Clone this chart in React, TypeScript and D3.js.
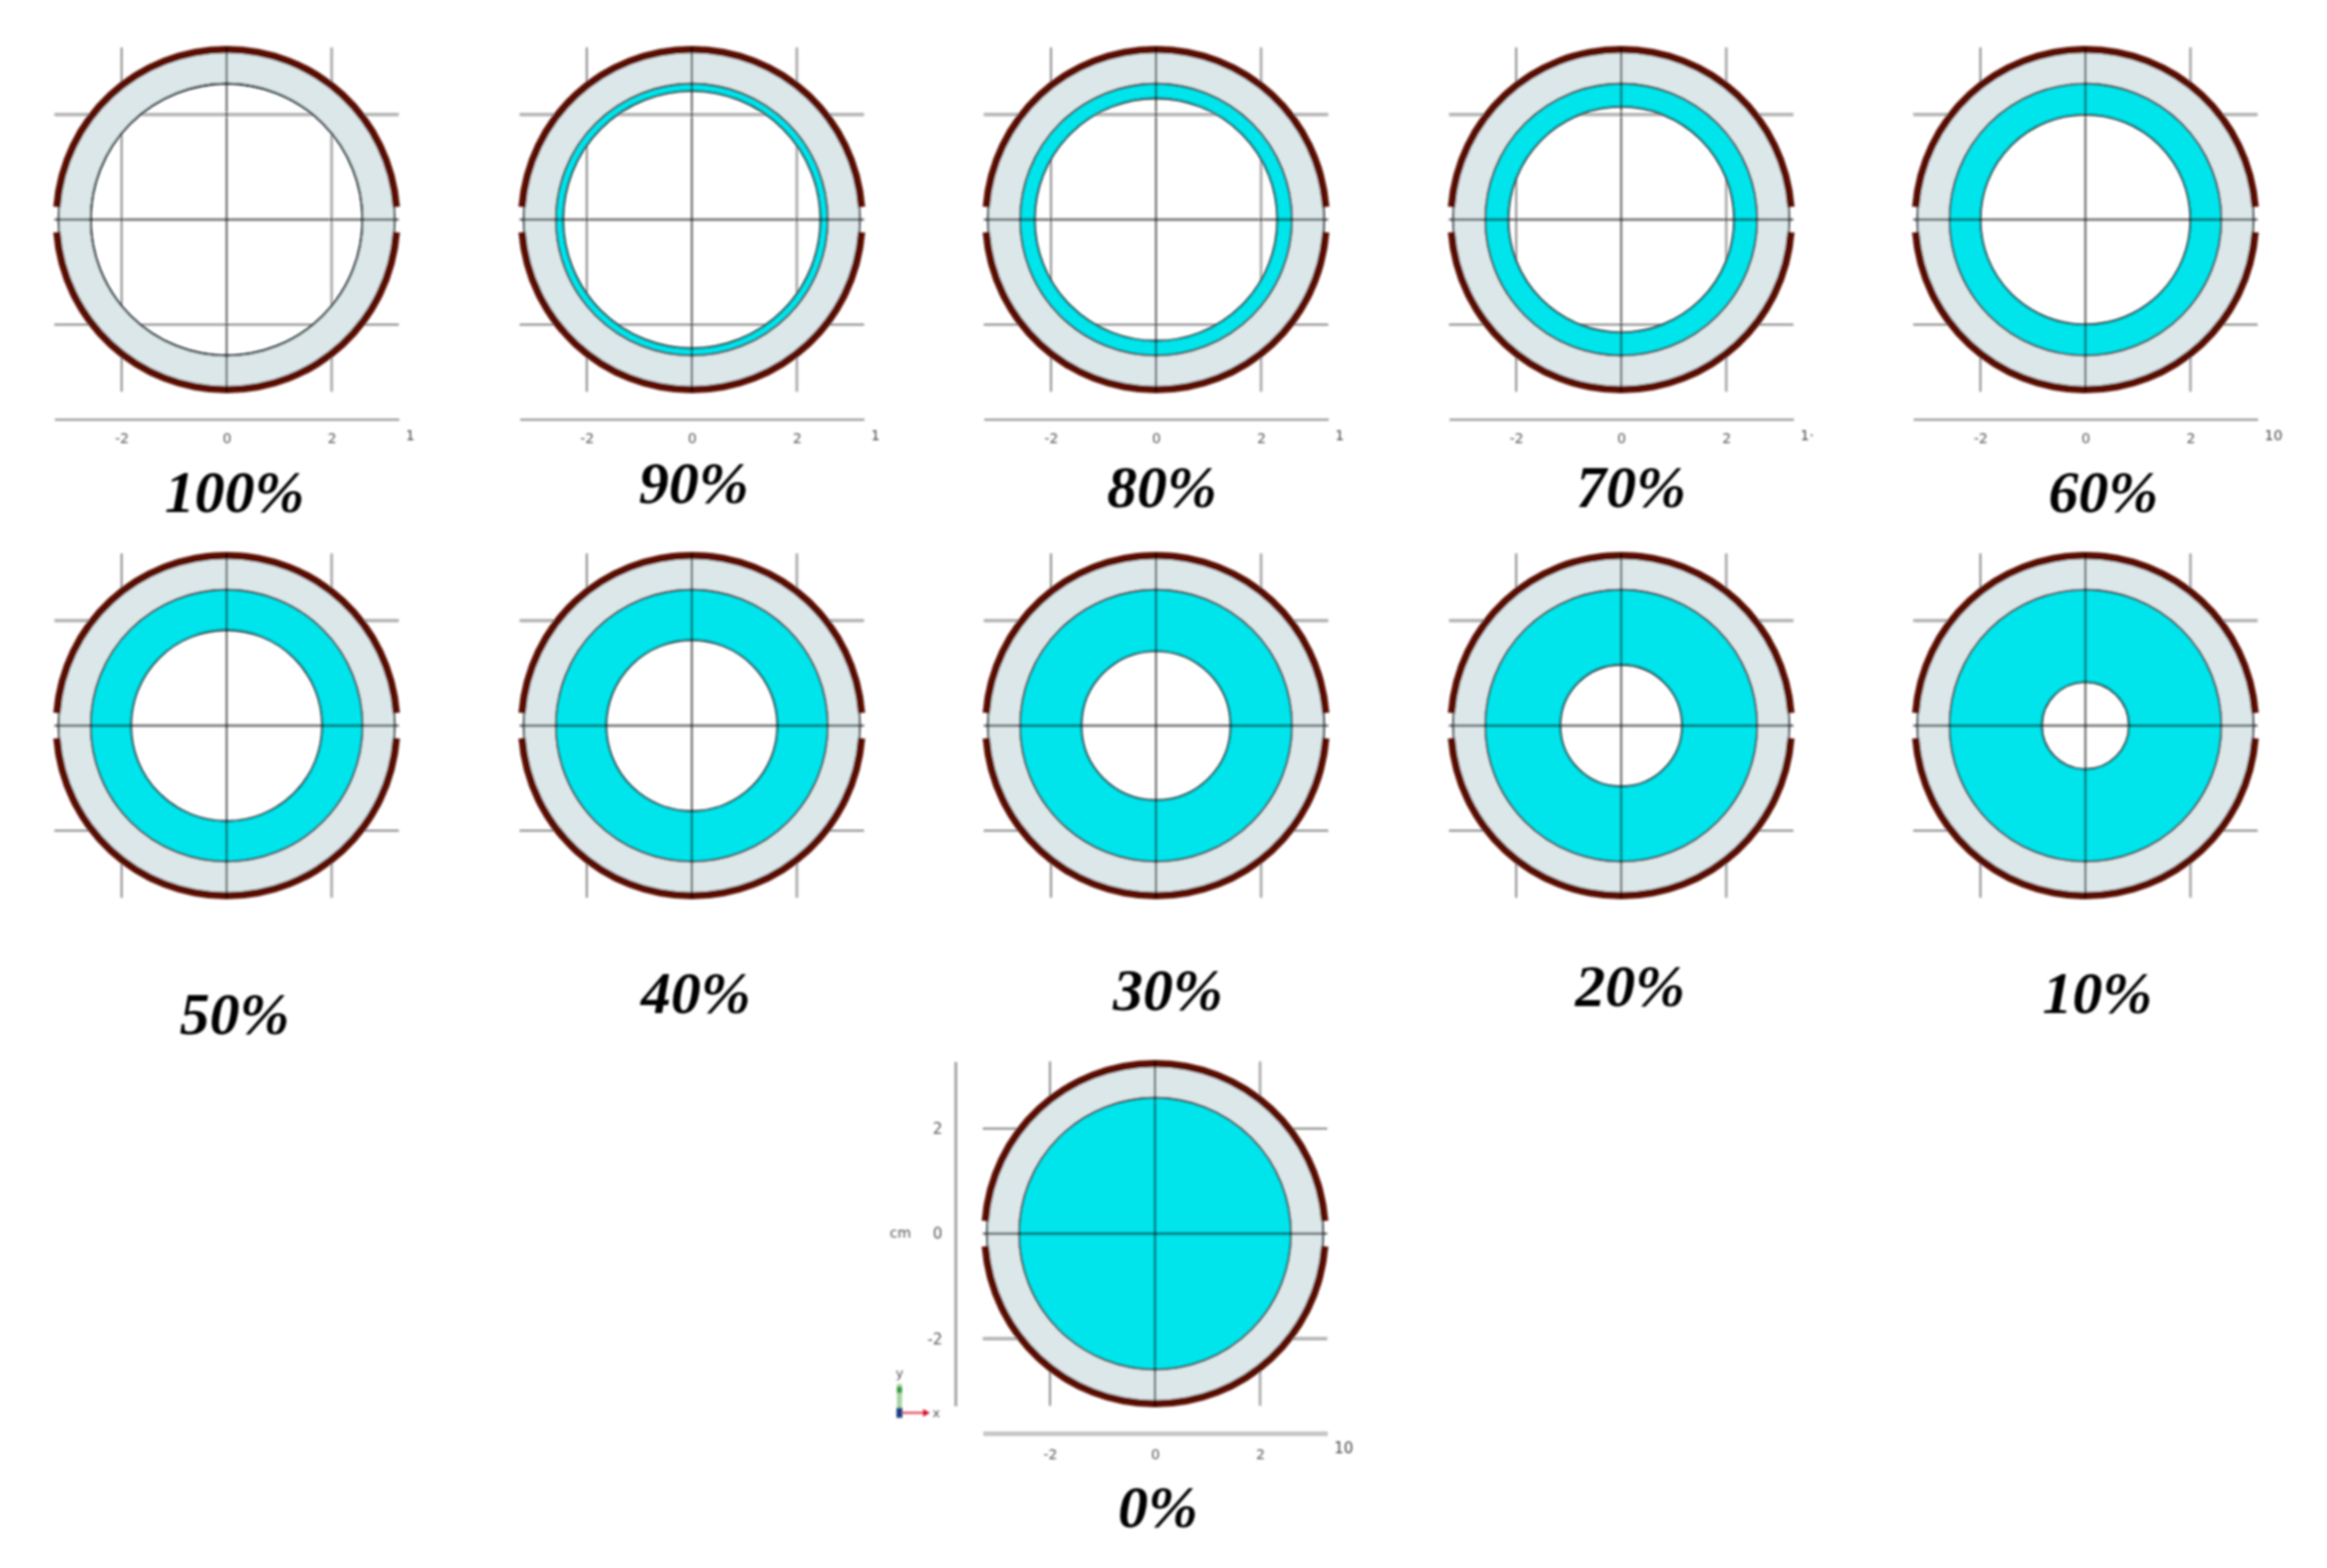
import * as React from "react";
import * as d3 from "d3";

// fill level of each panel, and the radius (cm) of the empty core
const fillLabels = ["100%", "90%", "80%", "70%", "60%", "50%", "40%", "30%", "20%", "10%", "0%"];
const coreRadius = [2.59, 2.45, 2.31, 2.15, 2.0, 1.82, 1.63, 1.42, 1.16, 0.83, 0];
const axisEndLabels = ["1", "1", "1", "1·", "10", "", "", "", "", "", "10"];
const gridTicks = [-2, 2];
const axisTicks = [-2, 0, 2];

const innerWall = 2.59;
const outerWall = 3.2;
const shellInner = 3.17;
const shellRadius = 3.31;
const extent = 3.28;

// layout, picture pixels
const pxPerCm = 52.6;
const panelX = [227, 693, 1158, 1624, 2089, 227, 693, 1158, 1624, 2089, 1157];
const panelY = [220, 220, 220, 220, 220, 727, 727, 727, 727, 727, 1236];
const labelX = [235, 695, 1164, 1634, 2107, 235, 697, 1170, 1633, 2101, 1160];
const labelY = [513, 504, 508, 508, 513, 1036, 1015, 1012, 1008, 1015, 1530];

const tickFormat = (d: any) => String(d);

export default function App() {
  const ref = React.useRef<SVGSVGElement>(null);

  React.useEffect(() => {
    const svg = d3.select(ref.current);
    svg.selectAll("*").remove();

    svg
      .append("defs")
      .append("filter")
      .attr("id", "soft")
      .append("feGaussianBlur")
      .attr("stdDeviation", 0.8);

    const root = svg.append("g").attr("filter", "url(#soft)");
    const r = d3.scaleLinear().domain([0, extent]).range([0, extent * pxPerCm]);
    const ring = d3.arc<any>();
    const gapAngle = 0.075;

    fillLabels.forEach((label, i) => {
      const cx = panelX[i];
      const cy = panelY[i];
      const x = d3.scaleLinear().domain([-extent, extent]).range([cx - r(extent), cx + r(extent)]);
      const y = d3.scaleLinear().domain([-extent, extent]).range([cy + r(extent), cy - r(extent)]);
      const g = root.append("g");

      // grid lines, they run under the rings
      gridTicks.forEach((t, j) => {
        g.append("line")
          .attr("x1", x(t))
          .attr("x2", x(t))
          .attr("y1", y(extent))
          .attr("y2", y(-extent))
          .attr("stroke", j ? "#a8a8a8" : "#8c8c8c")
          .attr("stroke-width", j ? 2.6 : 2);
        g.append("line")
          .attr("x1", x(-extent))
          .attr("x2", x(extent))
          .attr("y1", y(t))
          .attr("y2", y(t))
          .attr("stroke", (t > 0) === (i < 10) ? "#b4b4b4" : "#888")
          .attr("stroke-width", (t > 0) === (i < 10) ? 3.4 : 2);
      });

      const disc = g.append("g").attr("transform", `translate(${cx},${cy})`);

      disc
        .append("path")
        .attr("d", ring({ innerRadius: r(innerWall), outerRadius: r(outerWall), startAngle: 0, endAngle: 2 * Math.PI }))
        .attr("fill", "#dce7e9");

      if (coreRadius[i] < innerWall) {
        disc
          .append("path")
          .attr("d", ring({ innerRadius: r(coreRadius[i]), outerRadius: r(innerWall), startAngle: 0, endAngle: 2 * Math.PI }))
          .attr("fill", "#00e4eb");
      }

      // thin outlines
      [innerWall, outerWall, coreRadius[i]].forEach((c) => {
        if (c === 0) return;
        disc
          .append("circle")
          .attr("r", r(c))
          .attr("fill", "none")
          .attr("stroke", "#16282c")
          .attr("stroke-width", 1.8);
      });

      // shell, split at both sides
      [
        [-Math.PI / 2 + gapAngle, Math.PI / 2 - gapAngle],
        [Math.PI / 2 + gapAngle, (3 * Math.PI) / 2 - gapAngle],
      ].forEach(([a0, a1]) => {
        disc
          .append("path")
          .attr("d", ring({ innerRadius: r(shellInner), outerRadius: r(shellRadius), startAngle: a0, endAngle: a1 }))
          .attr("fill", "#5a0f04");
      });

      // centre lines sit on top of everything
      g.append("line")
        .attr("x1", x(0))
        .attr("x2", x(0))
        .attr("y1", y(extent))
        .attr("y2", y(-extent))
        .attr("stroke", "#000")
        .attr("stroke-opacity", 0.55)
        .attr("stroke-width", 2.2);
      g.append("line")
        .attr("x1", x(-extent))
        .attr("x2", x(extent))
        .attr("y1", y(0))
        .attr("y2", y(0))
        .attr("stroke", "#000")
        .attr("stroke-opacity", 0.55)
        .attr("stroke-width", 2.4);

      // bottom axis on the first row and on the lone panel
      if (axisEndLabels[i]) {
        const axisY = cy + 200;
        const ax = g
          .append("g")
          .attr("transform", `translate(0,${axisY})`)
          .call(d3.axisBottom(x).tickValues(axisTicks).tickSize(0).tickPadding(i === 10 ? 16 : 14).tickFormat(tickFormat));
        ax.select(".domain").attr("stroke", i === 10 ? "#c4c4c4" : "#909090").attr("stroke-width", i === 10 ? 4.5 : 2.2);
        ax.selectAll("text").attr("font-family", "DejaVu Sans").attr("font-size", 14).attr("fill", "#555");
        g.append("text")
          .attr("x", x(extent) + 7)
          .attr("y", axisY + (i === 10 ? 20 : 21))
          .attr("font-family", "DejaVu Sans")
          .attr("font-size", i === 10 ? 15 : 14)
          .attr("fill", "#444")
          .text(axisEndLabels[i]);
      }

      // left axis and triad only next to the 0% panel
      if (i === 10) {
        const axisX = cx - 200;
        const ay = g
          .append("g")
          .attr("transform", `translate(${axisX},0)`)
          .call(d3.axisLeft(y).tickValues(axisTicks).tickSize(0).tickPadding(13).tickFormat(tickFormat));
        ay.select(".domain").attr("stroke", "#a8a8a8").attr("stroke-width", 3);
        ay.selectAll("text").attr("font-family", "DejaVu Sans").attr("font-size", 15).attr("fill", "#555");
        g.append("text")
          .attr("x", axisX - 55)
          .attr("y", y(0) + 4)
          .attr("text-anchor", "middle")
          .attr("font-family", "DejaVu Sans")
          .attr("font-size", 14)
          .attr("fill", "#555")
          .text("cm");

        const ox = axisX - 56;
        const oy = y(-extent) + 7;
        g.append("line").attr("x1", ox).attr("x2", ox).attr("y1", oy).attr("y2", oy - 29).attr("stroke", "#a4d3a0").attr("stroke-width", 5);
        g.append("line").attr("x1", ox).attr("x2", ox).attr("y1", oy - 20).attr("y2", oy - 26).attr("stroke", "#2e9a3c").attr("stroke-width", 5);
        g.append("line").attr("x1", ox).attr("x2", ox + 26).attr("y1", oy).attr("y2", oy).attr("stroke", "#e0384c").attr("stroke-width", 2);
        g.append("path").attr("d", d3.symbol(d3.symbolTriangle, 26)()!).attr("transform", `translate(${ox + 26},${oy}) rotate(90)`).attr("fill", "#d8102c");
        g.append("rect").attr("x", ox - 3).attr("y", oy - 5).attr("width", 6).attr("height", 10).attr("fill", "#1f3f86");
        g.append("text").attr("x", ox).attr("y", oy - 36).attr("text-anchor", "middle").attr("font-family", "DejaVu Sans").attr("font-size", 13).attr("fill", "#555").text("y");
        g.append("text").attr("x", ox + 33).attr("y", oy + 4).attr("font-family", "DejaVu Sans").attr("font-size", 13).attr("fill", "#555").text("x");
      }

      root
        .append("text")
        .attr("x", labelX[i])
        .attr("y", labelY[i])
        .attr("text-anchor", "middle")
        .attr("font-family", "Liberation Serif")
        .attr("font-weight", "bold")
        .attr("font-style", "italic")
        .attr("font-size", 60)
        .attr("fill", "#000")
        .text(label);
    });
  }, []);

  return (
    <svg
      ref={ref}
      width={2331}
      height={1571}
      style={{ position: "absolute", left: 0, top: 0, background: "#fff" }}
    />
  );
}
